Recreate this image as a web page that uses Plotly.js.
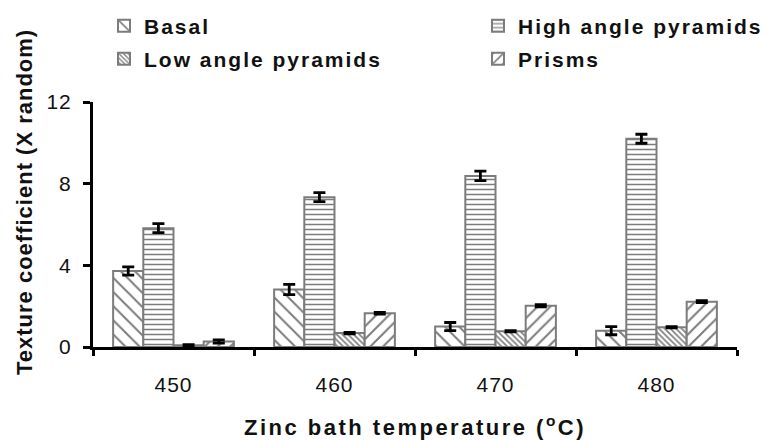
<!DOCTYPE html>
<html>
<head>
<meta charset="utf-8">
<script src="https://cdn.plot.ly/plotly-3.0.1.min.js"></script>
<style>
  html, body { margin: 0; padding: 0; background: #fff; }
  #chart { width: 767px; height: 440px; }
  /* slightly spread lettering for the chart texts */
  #chart text[class*="legend"],
  #chart .infolayer g[class^="legend"] text { letter-spacing: 2px; }
  #chart .xtitle { letter-spacing: 2.5px; }
  #chart .annotation-text { letter-spacing: 1px; }
  #chart .xtick text, #chart .ytick text { letter-spacing: 1px; }
</style>
</head>
<body>
<div id="chart"></div>
<script>
// Zinc bath temperatures (°C)
const temperatures = ['450', '460', '470', '480'];

// Texture coefficients per plane family, with error bar half-widths
const basal = [3.72, 2.82, 1.0, 0.8];
const basalErr = [0.2, 0.25, 0.2, 0.2];
const highAngle = [5.82, 7.34, 8.38, 10.2];
const highAngleErr = [0.22, 0.22, 0.23, 0.22];
const lowAngle = [0.08, 0.68, 0.77, 0.97];
const lowAngleErr = [0.03, 0.04, 0.03, 0.03];
const prisms = [0.27, 1.65, 2.02, 2.22];
const prismsErr = [0.08, 0.04, 0.05, 0.05];

const seriesNames = ['Basal', 'High angle pyramids', 'Low angle pyramids', 'Prisms'];

const FONT = 'Liberation Sans, Arial, sans-serif';
const GREY = '#7c7c7c';
const INK = '#111111';

function barTrace(name, values, errs, shape, size, solidity, legendId) {
  return {
    type: 'bar',
    name: name,
    x: temperatures,
    y: values,
    legend: legendId,
    marker: {
      color: '#ffffff',
      line: { color: GREY, width: 2 },
      pattern: { shape: shape, fgcolor: GREY, bgcolor: '#ffffff', size: size, solidity: solidity, fillmode: 'replace' }
    },
    error_y: { type: 'data', array: errs, visible: true, color: '#000000', thickness: 2.8, width: 6 }
  };
}

const data = [
  barTrace(seriesNames[0], basal, basalErr, '\\', 10, 0.2, 'legend'),
  barTrace(seriesNames[1], highAngle, highAngleErr, '-', 5, 0.3, 'legend2'),
  barTrace(seriesNames[2], lowAngle, lowAngleErr, '\\', 4, 0.4, 'legend3'),
  barTrace(seriesNames[3], prisms, prismsErr, '/', 9, 0.22, 'legend4')
];

// One single-entry legend per series, laid out as a 2 x 2 block above the plot;
// a fixed entry width leaves room for the spread lettering
function legendAt(xPx, yPx) {
  return {
    orientation: 'h',
    xref: 'container',
    yref: 'container',
    x: xPx / 767,
    y: 1 - yPx / 440,
    xanchor: 'left',
    yanchor: 'middle',
    itemwidth: 30,
    entrywidth: 245,
    entrywidthmode: 'pixels',
    bgcolor: 'rgba(0,0,0,0)',
    borderwidth: 0,
    font: { family: FONT, size: 21, color: INK, weight: 'bold' }
  };
}

const layout = {
  width: 767,
  height: 440,
  margin: { l: 93, r: 30, t: 102, b: 93 },
  paper_bgcolor: '#ffffff',
  plot_bgcolor: '#ffffff',
  barmode: 'group',
  bargap: 0.25,
  bargroupgap: 0,
  showlegend: true,
  legend: legendAt(104, 26),
  legend2: legendAt(478, 26),
  legend3: legendAt(104, 59),
  legend4: legendAt(478, 59),
  xaxis: {
    type: 'category',
    showline: true,
    linecolor: '#000',
    linewidth: 3,
    ticks: 'outside',
    tickson: 'boundaries',
    ticklen: 6,
    tickwidth: 3,
    tickcolor: '#000',
    ticklabelstandoff: 17,
    showgrid: false,
    zeroline: false,
    tickfont: { family: FONT, size: 21, color: INK },
    title: {
      text: 'Zinc bath temperature (<sup>o</sup>C)',
      font: { family: FONT, size: 22, color: INK, weight: 'bold' },
      standoff: 25
    }
  },
  yaxis: {
    range: [0, 12],
    tickvals: [0, 4, 8, 12],
    showline: true,
    linecolor: '#000',
    linewidth: 3,
    ticks: 'outside',
    ticklen: 7,
    tickwidth: 3,
    tickcolor: '#000',
    showgrid: false,
    zeroline: false,
    ticklabelstandoff: 7,
    tickfont: { family: FONT, size: 21, color: INK }
  },
  annotations: [{
    text: 'Texture coefficient (X random)',
    textangle: -90,
    xref: 'paper',
    yref: 'paper',
    x: 0,
    xshift: -69,
    y: (347 - 202) / 245,
    xanchor: 'center',
    yanchor: 'middle',
    showarrow: false,
    font: { family: FONT, size: 22, color: INK, weight: 'bold' }
  }]
};

Plotly.newPlot('chart', data, layout, { staticPlot: true, displayModeBar: false });
</script>
</body>
</html>
